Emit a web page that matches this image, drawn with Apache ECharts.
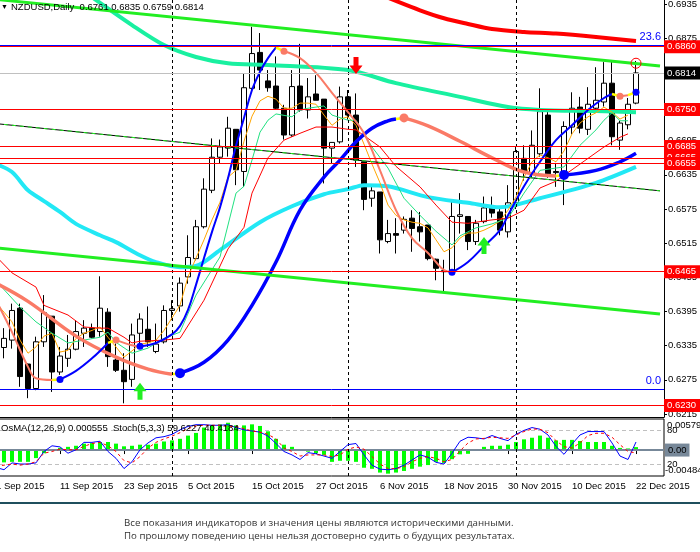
<!DOCTYPE html>
<html><head><meta charset="utf-8">
<script src="https://cdn.jsdelivr.net/npm/echarts/dist/echarts.min.js"></script>
<style>html,body{margin:0;padding:0;background:#fff;}#c{width:700px;height:552px;}</style>
</head><body><div id="c"></div>
<script>
const categories = ['1 Sep 2015','2 Sep 2015','3 Sep 2015','4 Sep 2015','7 Sep 2015','8 Sep 2015','9 Sep 2015','10 Sep 2015','11 Sep 2015','14 Sep 2015','15 Sep 2015','16 Sep 2015','17 Sep 2015','18 Sep 2015','21 Sep 2015','22 Sep 2015','23 Sep 2015','24 Sep 2015','25 Sep 2015','28 Sep 2015','29 Sep 2015','30 Sep 2015',
'1 Oct 2015','2 Oct 2015','5 Oct 2015','6 Oct 2015','7 Oct 2015','8 Oct 2015','9 Oct 2015','12 Oct 2015','13 Oct 2015','14 Oct 2015','15 Oct 2015','16 Oct 2015','19 Oct 2015','20 Oct 2015','21 Oct 2015','22 Oct 2015','23 Oct 2015','26 Oct 2015','27 Oct 2015','28 Oct 2015','29 Oct 2015','30 Oct 2015',
'2 Nov 2015','3 Nov 2015','4 Nov 2015','5 Nov 2015','6 Nov 2015','9 Nov 2015','10 Nov 2015','11 Nov 2015','12 Nov 2015','13 Nov 2015','16 Nov 2015','17 Nov 2015','18 Nov 2015','19 Nov 2015','20 Nov 2015','23 Nov 2015','24 Nov 2015','25 Nov 2015','26 Nov 2015','27 Nov 2015','30 Nov 2015',
'1 Dec 2015','2 Dec 2015','3 Dec 2015','4 Dec 2015','7 Dec 2015','8 Dec 2015','9 Dec 2015','10 Dec 2015','11 Dec 2015','14 Dec 2015','15 Dec 2015','16 Dec 2015','17 Dec 2015','18 Dec 2015','21 Dec 2015','22 Dec 2015','23 Dec 2015','24 Dec 2015','25 Dec 2015'];

const opens = [0.6372,0.6332,0.6345,0.6401,0.6303,0.6260,0.6342,0.6387,0.6289,0.6313,0.6329,0.6357,0.6366,0.6360,0.6394,0.6310,0.6292,0.6276,0.6357,0.6364,0.6325,0.6342,
0.6397,0.6405,0.6456,0.6488,0.6544,0.6608,0.6666,0.6682,0.6715,0.6641,0.6787,0.6850,0.6800,0.6791,0.6752,0.6705,0.6791,0.6749,0.6777,0.6768,0.6682,0.6693,
0.6772,0.6740,0.6658,0.6594,0.6605,0.6518,0.6532,0.6538,0.6559,0.6544,0.6547,0.6487,0.6465,0.6465,0.6562,0.6562,0.6518,0.6553,0.6577,0.6570,0.6535,
0.6586,0.6664,0.6637,0.6672,0.6740,0.6641,0.6632,0.6719,0.6754,0.6715,0.6752,0.6763,0.6796,0.6696,0.6723,0.6761];
const closes = [0.6335,0.6348,0.6397,0.6281,0.6260,0.6342,0.6393,0.6289,0.6317,0.6329,0.6360,0.6366,0.6350,0.6401,0.6316,0.6292,0.6272,0.6354,0.6382,0.6342,0.6338,0.6397,
0.6400,0.6445,0.6490,0.6544,0.6610,0.6666,0.6684,0.6717,0.6644,0.6788,0.6848,0.6819,0.6788,0.6752,0.6705,0.6790,0.6749,0.6772,0.6766,0.6682,0.6692,0.6772,
0.6740,0.6661,0.6592,0.6607,0.6521,0.6532,0.6529,0.6557,0.6541,0.6535,0.6488,0.6471,0.6467,0.6562,0.6565,0.6518,0.6550,0.6577,0.6568,0.6538,0.6586,
0.6676,0.6640,0.6687,0.6746,0.6637,0.6639,0.6720,0.6752,0.6717,0.6759,0.6766,0.6796,0.6702,0.6726,0.6759,0.6814];
const lows = [0.6318,0.6313,0.6330,0.6263,0.6243,0.6257,0.6333,0.6254,0.6284,0.6298,0.6327,0.6333,0.6348,0.6351,0.6298,0.6289,0.6234,0.6263,0.6333,0.6333,0.6322,0.6339,
0.6380,0.6395,0.6444,0.6485,0.6541,0.6603,0.6655,0.6667,0.6617,0.6614,0.6784,0.6784,0.6781,0.6750,0.6697,0.6702,0.6746,0.6734,0.6766,0.6620,0.6655,0.6690,
0.6732,0.6649,0.6573,0.6579,0.6497,0.6515,0.6497,0.6532,0.6500,0.6518,0.6485,0.6450,0.6430,0.6462,0.6532,0.6503,0.6512,0.6550,0.6560,0.6529,0.6525,
0.6575,0.6625,0.6630,0.6667,0.6630,0.6614,0.6582,0.6706,0.6708,0.6705,0.6745,0.6755,0.6687,0.6679,0.6715,0.6759];
const highs = [0.6392,0.6366,0.6409,0.6409,0.6304,0.6351,0.6424,0.6387,0.6333,0.6354,0.6380,0.6380,0.6374,0.6457,0.6401,0.6339,0.6322,0.6374,0.6392,0.6404,0.6374,0.6406,
0.6415,0.6455,0.6529,0.6556,0.6629,0.6699,0.6697,0.6737,0.6715,0.6813,0.6895,0.6884,0.6819,0.6843,0.6758,0.6819,0.6865,0.6805,0.6810,0.6768,0.6692,0.6790,
0.6784,0.6778,0.6658,0.6614,0.6605,0.6556,0.6559,0.6562,0.6573,0.6570,0.6547,0.6488,0.6486,0.6588,0.6603,0.6562,0.6556,0.6597,0.6597,0.6578,0.6617,
0.6685,0.6687,0.6713,0.6787,0.6749,0.6656,0.6729,0.6780,0.6772,0.6789,0.6824,0.6833,0.6834,0.6730,0.6770,0.6835];

const priceTicks = ['0.6215','0.6275','0.6335','0.6395','0.6455','0.6515','0.6575','0.6635','0.6695','0.6755','0.6815','0.6875','0.6935'];

const orangeMA = [0.6410,0.6394,0.6377,0.6345,0.6322,0.6333,0.6352,0.6357,0.6324,0.6327,0.6348,0.6357,0.6362,0.6368,0.6350,0.6333,0.6315,0.6326,0.6338,0.6340,
0.6345,0.6362,0.6384,0.6406,0.6456,0.6489,0.6521,0.6556,0.6587,0.6631,0.6643,0.6694,0.6738,0.6765,0.6773,0.6768,0.6752,0.6752,0.6761,0.6761,
0.6759,0.6740,0.6722,0.6733,0.6737,0.6722,0.6689,0.6654,0.6621,0.6582,0.6564,0.6556,0.6552,0.6550,0.6542,0.6521,0.6500,0.6507,0.6524,0.6533,
0.6533,0.6538,0.6545,0.6554,0.6573,0.6596,0.6631,0.6658,0.6670,0.6665,0.6658,0.6677,0.6707,0.6726,0.6737,0.6744,0.6754,0.6745,0.6733,0.6740];
const greenMA = [[0,0.6449],[3,0.6403],[5,0.6377],[7,0.6357],[9,0.6340],[11,0.6345],[13,0.6350],[14,0.6359],[15,0.6341],[17,0.6322],[19,0.6331],[21,0.6348],[23,0.6359],[25,0.6424],[28,0.6491],[30,0.6603],[31,0.6615],[32,0.6661],[33,0.6710],[34,0.6731],[35,0.6742],[37,0.6737],[38,0.6749],[39,0.6752],[41,0.6756],[42,0.6740],[44,0.6731],[45,0.6731],[47,0.6684],[49,0.6647],[51,0.6594],[53,0.6564],[55,0.6536],[57,0.6512],[58,0.6528],[60,0.6542],[62,0.6549],[64,0.6559],[66,0.6603],[68,0.6643],[71,0.6649],[73,0.6687],[75,0.6714],[76,0.6731],[77,0.6744],[78,0.6730],[79,0.6730]];
const redMA = [[0,0.6492],[2,0.6463],[5,0.6438],[6,0.6406],[9,0.6389],[11,0.6368],[13,0.6366],[14,0.6366],[16,0.6350],[17,0.6340],[18,0.6343],[21,0.6345],[23,0.6348],[26,0.6415],[29,0.6505],[31,0.6543],[32,0.6603],[34,0.6665],[36,0.6696],[38,0.6708],[40,0.6719],[42,0.6719],[44,0.6715],[45,0.6714],[48,0.6684],[50,0.6650],[53,0.6614],[55,0.6582],[57,0.6552],[59,0.6550],[62,0.6556],[64,0.6559],[66,0.6573],[68,0.6612],[70,0.6624],[73,0.6654],[76,0.6684],[78,0.6701],[79,0.6707]];
const slowRed = [[49,0.6946],[53,0.6924],[56,0.6910],[59,0.6900],[62,0.6891],[66,0.6886],[70,0.6883],[75,0.6877],[80,0.6870]];
const tealMA = [[12,0.6947],[17,0.6898],[21,0.6863],[25,0.6842],[29,0.6831],[34,0.6828],[44,0.6819],[50,0.6796],[58,0.6772],[64,0.6754],[68,0.6749],[75,0.6747],[80,0.6745]];
const cyanMA = [[0,0.6654],[2,0.6640],[4,0.6608],[6,0.6589],[8,0.6570],[10,0.6549],[13,0.6529],[15,0.6517],[18,0.6494],[20,0.6482],[23,0.6473],[25,0.6475],[28,0.6503],[33,0.6552],[37,0.6580],[41,0.6601],[44,0.6610],[46,0.6617],[49,0.6615],[54,0.6596],[59,0.6586],[63,0.6578],[68,0.6594],[75,0.6621],[80,0.6649]];

const thickDown = [
  [[0,0.6445],[4,0.6413],[10,0.6352],[15,0.6315],[19,0.6294],[22,0.6285]],
  [[51,0.6735],[54,0.6721],[58,0.6694],[62,0.6665],[66,0.6640],[70,0.6633]]];
const thickUp = [
  [[23,0.6287],[26,0.6306],[29,0.6345],[32,0.6406],[35,0.6482],[38,0.6573],[41,0.6631],[43,0.6661],[45,0.6693],[47,0.6717],[49,0.6730],[50,0.6733]],
  [[71,0.6635],[75,0.6643],[78,0.6658],[80,0.6673]]];
const thinDown = [
  [[0,0.6415],[2,0.6359],[4,0.6298],[5,0.6278],[7,0.6275]],
  [[15,0.6345],[17,0.6336],[18,0.6334]],
  [[36,0.6852],[38,0.6840],[40,0.6814],[42,0.6779],[44,0.6745],[46,0.6708],[48,0.6643],[50,0.6573],[52,0.6524],[54,0.6498],[55,0.6482],[56,0.6468],[57,0.6464]],
  [[78,0.6773],[79,0.6775]]];
const thinUp = [
  [[8,0.6276],[10,0.6291],[12,0.6313],[14,0.6340]],
  [[18,0.6334],[20,0.6340],[22,0.6355],[23,0.6370],[24,0.6398],[25,0.6442],[26,0.6489],[27,0.6535],[28,0.6578],[29,0.6629],[30,0.6686],[31,0.6735],[32,0.6784],[33,0.6816],[34,0.6840],[35,0.6859]],
  [[57,0.6464],[59,0.6482],[61,0.6510],[63,0.6538],[64,0.6564],[66,0.6615],[68,0.6658],[70,0.6696],[72,0.6722],[74,0.6749],[76,0.6770],[77,0.6777]]];
const yellowLinks = [
  [[7,0.6275],[8,0.6276]],[[14,0.6340],[15,0.6345]],[[35,0.6859],[36,0.6852]],[[77,0.6777],[78,0.6773]],
  [[79,0.6775],[80,0.6780]],[[22,0.6285],[23,0.6287]],[[50,0.6733],[51,0.6735]],[[70,0.6633],[71,0.6635]]];
const blueDots = [[8,0.6276],[18,0.6334],[57,0.6464],[80,0.6780]];
const bigBlueDots = [[23,0.6287],[71,0.6635]];
const salmonDots = [[15,0.6345],[36,0.6852],[78,0.6773]];
const bigSalmonDots = [[51,0.6735]];

const trendTop = [[0,0.6943],[83,0.6826]];
const trendLow = [[0,0.6507],[83,0.6391]];
const trendMid = [[0,0.6725],[83,0.6607]];

const redLevels = [0.6860,0.6750,0.6685,0.6665,0.6655,0.6465,0.6230];
const fibValues = [0.6863,0.6259];
const fibTexts = ['23.6','0.0'];
const bidPrice = 0.6814;
const separators = [22,44,65];

const arrowsDown = [[45,0.6827]];
const arrowsUp = [[18,0.6255],[61,0.6511]];
const rings = [[80,0.6831]];

const osma = [-0.0023,-0.0023,-0.0022,-0.0022,-0.0022,-0.0015,-0.0006,0.0002,0.0004,0.0006,0.0008,0.0012,0.0013,0.0015,0.0015,0.0012,0.0007,0.0008,0.0010,0.0010,0.0012,0.0016,
0.0018,0.0021,0.0027,0.0032,0.0042,0.0046,0.0048,0.0051,0.0046,0.0046,0.0048,0.0045,0.0035,0.0021,0.0010,0.0006,-0.0001,-0.0003,-0.0006,-0.0009,-0.0022,-0.0020,
-0.0020,-0.0022,-0.0033,-0.0035,-0.0042,-0.0044,-0.0042,-0.0039,-0.0035,-0.0031,-0.0028,-0.0022,-0.0024,-0.0017,-0.0008,-0.0007,0.0001,0.0006,0.0008,0.0008,0.0010,
0.0015,0.0020,0.0023,0.0027,0.0023,0.0018,0.0019,0.0019,0.0017,0.0015,0.0015,0.0015,0.0008,0.0004,0.0003,0.000555];
const stochMain = [15,11,23,21,21,23,43,53,51,40,46,59,59,61,43,31,13,25,46,58,67,69,73,81,87,90,90,89,89,90,85,81,79,77,70,57,43,37,29,41,39,35,31,43,
55,57,37,19,12,11,13,19,28,37,33,24,21,40,61,68,67,65,71,66,62,73,80,85,82,72,52,38,56,72,78,78,78,58,35,29,59.6227];
const stochSignal = [17,19,21,19,21,25,40,43,47,46,46,52,57,59,53,43,27,23,34,49,59,65,70,76,83,88,89,89,89,87,87,83,79,77,73,65,49,43,35,37,37,37,34,37,
47,51,47,34,21,13,13,16,25,31,34,31,25,29,44,58,65,66,68,67,66,72,78,82.5,82,76,62,51.5,49,58,71,75,75,68,55,43,40.4184];

const FONT = '"Liberation Sans", Arial, sans-serif';
const SALMON = '#fa7a66';
const chart = echarts.init(document.getElementById('c'), null, {width:700, height:552});

const candleData = categories.map((c, i) => i < opens.length ? [opens[i], closes[i], lows[i], highs[i]] : '-');
const labelEvery8 = (i) => i % 8 === 0 && i <= 80;

function mainLine(data, color, width, extra) {
  return Object.assign({type:'line', xAxisIndex:0, yAxisIndex:0, data: data, symbol:'none', silent:true,
    lineStyle:{color: color, width: width}, z:3, animation:false}, extra || {});
}

const levelMarks = {
  silent:true, symbol:['none','none'], animation:false, z:6, precision:6,
  data: [].concat(
    separators.map(ix => ({xAxis: categories[ix], lineStyle:{color:'#000', type:[3,3], width:1}, label:{show:false}})),
    fibValues.map((v, k) => ({yAxis: v, lineStyle:{color:'#0000ff', type:'solid', width:1},
      label:{show:true, position:'insideEndTop', formatter: fibTexts[k], color:'#0000ff', fontSize:11, fontFamily:FONT, distance:3}})),
    [{yAxis: bidPrice, lineStyle:{color:'#c0c0c0', type:'solid', width:1},
      label:{show:true, position:'end', distance:0, formatter: bidPrice.toFixed(4), color:'#fff', backgroundColor:'#000',
        padding:[2,4,1,3], fontSize:9.5, fontFamily:FONT}}],
    redLevels.map(v => ({yAxis: v, lineStyle:{color:'#ff0000', type:'solid', width:1},
      label:{show:true, position:'end', distance:0, formatter: v.toFixed(4), color:'#fff', backgroundColor:'#ff0000',
        padding:[2,4,1,3], fontSize:9.5, fontFamily:FONT}}))
  )
};

const series = [];
series.push({
  type:'candlestick', xAxisIndex:0, yAxisIndex:0, data: candleData, barWidth:5, silent:true,
  itemStyle:{color:'#ffffff', color0:'#000000', borderColor:'#000000', borderColor0:'#000000', borderWidth:1},
  z:2
});
series.push(mainLine(slowRed, '#ff0000', 4, {smooth:0.3}));
series.push(mainLine(tealMA, '#19f0a0', 4, {smooth:0.3}));
series.push(mainLine(cyanMA, '#22e8f5', 4, {smooth:0.3}));
series.push(mainLine(orangeMA, '#ffa500', 1));
series.push(mainLine(greenMA, '#20e080', 1));
series.push(mainLine(redMA, '#ff0000', 1));
thickDown.forEach(d => series.push(mainLine(d, SALMON, 3.5, {smooth:0.4, z:4})));
thickUp.forEach(d => series.push(mainLine(d, '#0000ff', 3.5, {smooth:0.4, z:4})));
thinDown.forEach(d => series.push(mainLine(d, SALMON, 2, {smooth:0.4, z:4})));
thinUp.forEach(d => series.push(mainLine(d, '#0000ff', 2, {smooth:0.4, z:4})));
yellowLinks.forEach(d => series.push(mainLine(d, '#ffff00', 2.5, {z:4})));
series.push(mainLine(trendTop, '#22ee22', 3, {z:5}));
series.push(mainLine(trendLow, '#22ee22', 3, {z:5}));
series.push(mainLine(trendMid, '#000000', 1, {z:5, markLine: levelMarks}));
series.push(mainLine(trendMid, '#22ee22', 1, {z:5, lineStyle:{color:'#22ee22', width:1, type:[4,4]}}));
function dots(data, color, size) {
  return {type:'scatter', xAxisIndex:0, yAxisIndex:0, data: data, symbol:'circle', symbolSize:size, silent:true,
    itemStyle:{color: color, opacity:1}, z:5, animation:false};
}
series.push(dots(blueDots, '#0000ff', 7));
series.push(dots(bigBlueDots, '#0000ff', 10));
series.push(dots(salmonDots, SALMON, 7));
series.push(dots(bigSalmonDots, SALMON, 9));
series.push({type:'scatter', xAxisIndex:0, yAxisIndex:0, data: arrowsDown, silent:true, z:7,
  symbol:'path://M4,0 L9,0 L9,8 L13,8 L6.5,16 L0,8 L4,8 Z', symbolSize:[13,17], itemStyle:{color:'#ff0000', opacity:1}});
series.push({type:'scatter', xAxisIndex:0, yAxisIndex:0, data: arrowsUp, silent:true, z:7,
  symbol:'path://M6.5,0 L13,8 L9,8 L9,16 L4,16 L4,8 L0,8 Z', symbolSize:[13,17], itemStyle:{color:'#22ee22', opacity:1}});
series.push({type:'scatter', xAxisIndex:0, yAxisIndex:0, data: rings, silent:true, z:7, symbol:'circle', symbolSize:10,
  itemStyle:{color:'rgba(0,0,0,0)', borderColor:'#ff0000', borderWidth:1, opacity:1}});

// indicator panel
series.push({type:'bar', xAxisIndex:2, yAxisIndex:2, data: osma, barWidth:4, silent:true, itemStyle:{color:'#00ff00'}, z:2,
  markLine:{silent:true, symbol:['none','none'], animation:false, z:3, precision:6,
    data: [{yAxis:0, lineStyle:{color:'#778899', width:2, type:'solid'},
      label:{show:true, position:'end', distance:1, formatter:'0.00', color:'#000', backgroundColor:'#778899', padding:[2,3,1,3], fontSize:9.5, fontFamily:FONT}}]
      .concat(separators.map(ix => ({xAxis: categories[ix], lineStyle:{color:'#000', type:[3,3], width:1}, label:{show:false}})))
  }});
series.push({type:'line', xAxisIndex:2, yAxisIndex:3, data: stochMain, symbol:'none', silent:true, z:4,
  lineStyle:{color:'#0000ff', width:1},
  markLine:{silent:true, symbol:['none','none'], animation:false, z:1,
    data:[80,20].map(v => ({yAxis:v, lineStyle:{color:'#c0c0c0', width:1, type:[4,3]},
      label:{show:true, position:'end', distance:3, formatter:String(v), color:'#000', fontSize:9.5, fontFamily:FONT}}))}});
series.push({type:'line', xAxisIndex:2, yAxisIndex:3, data: stochSignal, symbol:'none', silent:true, z:5,
  lineStyle:{color:'#ff0000', width:1, type:[3,3]}});

const option = {
  animation:false,
  backgroundColor:'#ffffff',
  textStyle:{fontFamily:FONT},
  grid:[
    {left:-8, top:0, width:672, height:417, outerBoundsMode:'none', containLabel:false},
    {left:-8, top:4, width:672, height:410, outerBoundsMode:'none', containLabel:false},
    {left:-8, top:419, width:672, height:57, show:true, borderColor:'#000', borderWidth:1, backgroundColor:'rgba(0,0,0,0)', outerBoundsMode:'none', containLabel:false}
  ],
  xAxis:[
    {type:'category', gridIndex:0, data:categories, boundaryGap:true, axisLine:{show:true, lineStyle:{color:'#000'}}, axisTick:{show:false}, axisLabel:{show:false}, splitLine:{show:false}},
    {type:'category', gridIndex:1, data:categories, show:false},
    {type:'category', gridIndex:2, data:categories, boundaryGap:true, axisLine:{show:false},
      axisTick:{show:true, alignWithLabel:true, interval:labelEvery8, length:4, lineStyle:{color:'#000'}},
      axisLabel:{show:true, interval:labelEvery8, align:'left', margin:5, fontSize:9.5, color:'#000', fontFamily:FONT},
      splitLine:{show:false}}
  ],
  yAxis:[
    {type:'value', gridIndex:0, min:0.6210, max:0.6942, position:'right', axisLine:{show:true, lineStyle:{color:'#000'}}, axisTick:{show:false}, axisLabel:{show:false}, splitLine:{show:false}},
    {type:'value', gridIndex:1, min:0, max:12, interval:1, position:'right', axisLine:{show:false},
      axisTick:{show:true, length:3, lineStyle:{color:'#000'}},
      axisLabel:{show:true, formatter:(v) => priceTicks[v], margin:4, fontSize:9.5, color:'#000', fontFamily:FONT, showMinLabel:true, showMaxLabel:true},
      splitLine:{show:false}},
    {type:'value', gridIndex:2, min:-0.00484, max:0.005796, show:false, splitLine:{show:false}},
    {type:'value', gridIndex:2, min:0, max:100, show:false, splitLine:{show:false}}
  ],
  graphic:[
    {type:'text', left:1, top:4, style:{text:'▼', fontSize:7, fill:'#000', fontFamily:FONT}, z:100},
    {type:'text', left:11, top:2, style:{text:'NZDUSD,Daily  0.6761 0.6835 0.6759 0.6814', fontSize:9.5, fill:'#000', fontFamily:FONT}, z:100},
    {type:'text', left:1, top:423, style:{text:'OsMA(12,26,9) 0.000555  Stoch(5,3,3) 59.6227 40.4184', fontSize:9.5, fill:'#000', fontFamily:FONT}, z:100},
    {type:'text', left:667, top:420, style:{text:'0.005796', fontSize:9.5, fill:'#000', fontFamily:FONT}, z:100},
    {type:'text', left:665, top:465, style:{text:'-0.00484', fontSize:9.5, fill:'#000', fontFamily:FONT}, z:100},
    {type:'line', shape:{x1:0, y1:503, x2:700, y2:503}, style:{stroke:'#1f4f5d', lineWidth:2}, z:100},
    {type:'text', left:124, top:518, style:{text:'Все показания индикаторов и значения цены являются историческими данными.', fontSize:9.7, fill:'#333', fontFamily:'"Open Sans", sans-serif'}, z:100},
    {type:'text', left:124, top:531, style:{text:'По прошлому поведению цены нельзя достоверно судить о будущих результатах.', fontSize:9.7, fill:'#333', fontFamily:'"Open Sans", sans-serif'}, z:100}
  ],
  series: series
};
chart.setOption(option);
</script></body></html>
